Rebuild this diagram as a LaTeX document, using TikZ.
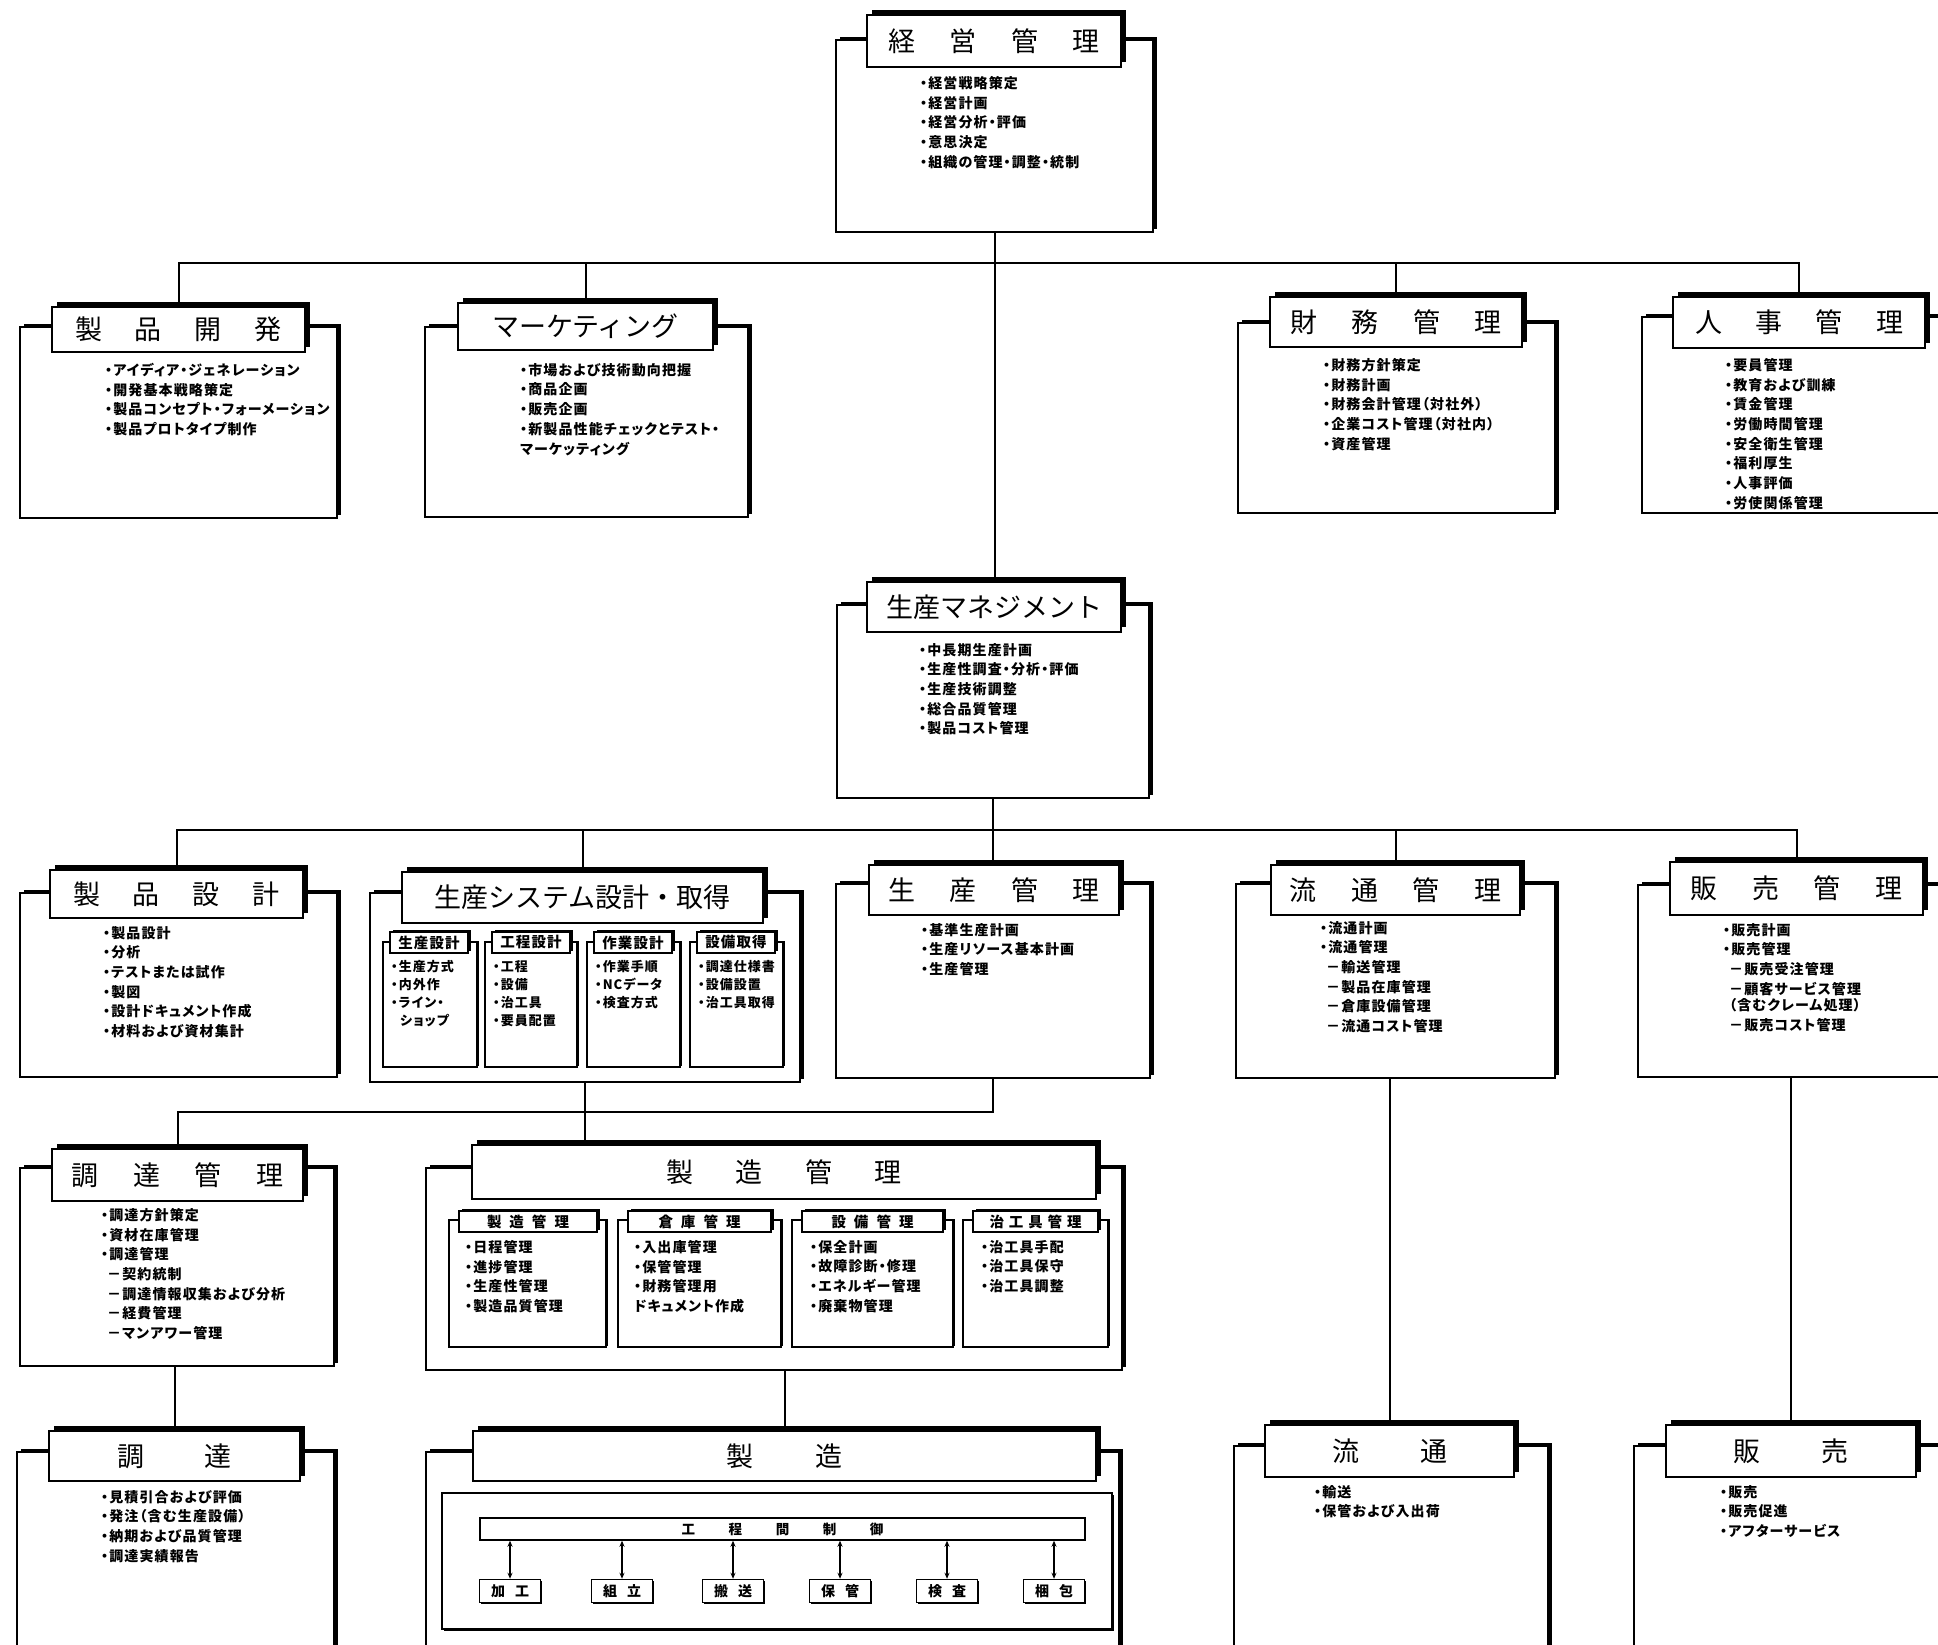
\documentclass[tikz,border=0pt]{standalone}
\usepackage{fontspec}
\newfontfamily\jpt{Noto Sans CJK JP}
\newfontfamily\jpi{Noto Sans CJK JP}[RawFeature=+palt, LetterSpace=8]
\usetikzlibrary{shadows,arrows.meta}
\pgfdeclarelayer{bg}
\pgfsetlayers{bg,main}
\tikzset{
  bodybox/.style={draw, line width=1.5pt, fill=white, inner sep=0pt,
    drop shadow={opacity=1, fill=black, shadow xshift=3.5pt, shadow yshift=3pt}},
  tabbox/.style={draw, line width=1.5pt, fill=white, inner sep=0pt,
    drop shadow={opacity=1, fill=black, shadow xshift=5pt, shadow yshift=5pt},
    font=\jpt\fontsize{27}{30}\selectfont},
  subbody/.style={draw, line width=1.2pt, fill=white, inner sep=0pt,
    drop shadow={opacity=1, fill=black, shadow xshift=2pt, shadow yshift=1.5pt}},
  subtab/.style={draw, line width=1.2pt, fill=white, inner sep=0pt,
    drop shadow={opacity=1, fill=black, shadow xshift=2.5pt, shadow yshift=2.5pt},
    font=\jpi\bfseries\fontsize{14.5}{16}\selectfont},
  innerbox/.style={draw, line width=1.6pt, fill=white, inner sep=0pt,
    drop shadow={opacity=1, fill=black, shadow xshift=2pt, shadow yshift=-2pt}},
  barbox/.style={draw, line width=1.4pt, fill=white, inner sep=0pt,
    font=\jpi\bfseries\fontsize{13.5}{15}\selectfont},
  procbox/.style={draw, line width=1.5pt, fill=white, inner sep=0pt,
    minimum width=61pt, minimum height=23pt,
    drop shadow={opacity=1, fill=black, shadow xshift=1.5pt, shadow yshift=-1.5pt},
    font=\jpi\bfseries\fontsize{14}{15}\selectfont},
  items/.style={anchor=north west, inner sep=0pt, align=left,
    font=\jpi\bfseries\fontsize{14}{19.7}\selectfont},
  subitems/.style={anchor=north west, inner sep=0pt, align=left,
    font=\jpi\bfseries\fontsize{13}{18}\selectfont},
  link/.style={line width=2pt},
  ctl/.style={line width=1.2pt, {Stealth[length=6pt,width=5pt]}-{Stealth[length=6pt,width=5pt]}}
}
\newcommand\bx[7]{\node[#1, minimum width={#5pt-#3pt}, minimum height={#6pt-#4pt}] (#2) at ({(#3+#5)/2},{(#4+#6)/2}) {#7};}
\begin{document}
\begin{tikzpicture}[x=1pt,y=-1pt]
\useasboundingbox (0,0) rectangle (1938,1644);
\begin{pgfonlayer}{bg}
\fill[white] (0,0) rectangle (1938,1644);
\end{pgfonlayer}

% ---------- top ----------
\bx{bodybox}{top-body}{836}{40}{1153}{232}{}
\bx{tabbox}{top-tab}{867}{15}{1121}{67}{\makebox[212pt]{経\hfill 営\hfill 管\hfill 理}}
\node[items] (top-items) at (920,76) {・経営戦略策定\\・経営計画\\・経営分析・評価\\・意思決定\\・組織の管理・調整・統制};

% ---------- row 1 ----------
\bx{bodybox}{kd-body}{20}{327}{337}{518}{}
\bx{tabbox}{kd-tab}{52}{307}{305}{352}{\makebox[207pt]{製\hfill 品\hfill 開\hfill 発}}
\node[items] (kd-items) at (105,363) {・アイディア・ジェネレーション\\・開発基本戦略策定\\・製品コンセプト・フォーメーション\\・製品プロトタイプ制作};

\bx{bodybox}{mk-body}{425}{327}{748}{517}{}
\bx{tabbox}{mk-tab}{458}{303}{713}{350}{マーケティング}
\node[items] (mk-items) at (520,363) {・市場および技術動向把握\\・商品企画\\・販売企画\\・新製品性能チェックとテスト・\\マーケッティング};

\bx{bodybox}{zm-body}{1238}{323}{1555}{513}{}
\bx{tabbox}{zm-tab}{1270}{297}{1522}{347}{\makebox[212pt]{財\hfill 務\hfill 管\hfill 理}}
\node[items] (zm-items) at (1323,358) {・財務方針策定\\・財務計画\\・財務会計管理（対社外）\\・企業コスト管理（対社内）\\・資産管理};

\bx{bodybox}{jj-body}{1642}{317}{1965}{513}{}
\bx{tabbox}{jj-tab}{1673}{297}{1925}{348}{\makebox[208pt]{人\hfill 事\hfill 管\hfill 理}}
\node[items] (jj-items) at (1725,358) {・要員管理\\・教育および訓練\\・賃金管理\\・労働時間管理\\・安全衛生管理\\・福利厚生\\・人事評価\\・労使関係管理};

% ---------- production management ----------
\bx{bodybox}{pm-body}{837}{605}{1149}{798}{}
\bx{tabbox}{pm-tab}{867}{582}{1121}{632}{生産マネジメント}
\node[items] (pm-items) at (919,643) {・中長期生産計画\\・生産性調査・分析・評価\\・生産技術調整\\・総合品質管理\\・製品コスト管理};

% ---------- row 2 ----------
\bx{bodybox}{ps-body}{20}{893}{337}{1077}{}
\bx{tabbox}{ps-tab}{50}{870}{303}{918}{\makebox[207pt]{製\hfill 品\hfill 設\hfill 計}}
\node[items] (ps-items) at (103,926) {・製品設計\\・分析\\・テストまたは試作\\・製図\\・設計ドキュメント作成\\・材料および資材集計};

\bx{bodybox}{ss-body}{370}{893}{800}{1082}{}
\bx{tabbox}{ss-tab}{402}{872}{763}{923}{生産システム設計・取得}
\bx{subbody}{ss1-body}{383}{942}{477}{1067}{}
\bx{subtab}{ss1-tab}{390}{932}{468}{953}{生産設計}
\node[subitems] (ss1-items) at (391,960) {・生産方式\\・内外作\\・ライン・\\\hspace*{9pt}ショップ};
\bx{subbody}{ss2-body}{485}{942}{577}{1067}{}
\bx{subtab}{ss2-tab}{492}{932}{570}{953}{工程設計}
\node[subitems] (ss2-items) at (493,960) {・工程\\・設備\\・治工具\\・要員配置};
\bx{subbody}{ss3-body}{587}{942}{680}{1067}{}
\bx{subtab}{ss3-tab}{594}{932}{672}{953}{作業設計}
\node[subitems] (ss3-items) at (595,960) {・作業手順\\・NCデータ\\・検査方式};
\bx{subbody}{ss4-body}{690}{942}{783}{1067}{}
\bx{subtab}{ss4-tab}{697}{932}{775}{953}{設備取得}
\node[subitems] (ss4-items) at (698,960) {・調達仕様書\\・設備設置\\・治工具取得};

\bx{bodybox}{sm-body}{836}{884}{1150}{1078}{}
\bx{tabbox}{sm-tab}{869}{865}{1119}{915}{\makebox[212pt]{生\hfill 産\hfill 管\hfill 理}}
\node[items] (sm-items) at (921,923) {・基準生産計画\\・生産リソース基本計画\\・生産管理};

\bx{bodybox}{rk-body}{1236}{884}{1555}{1078}{}
\bx{tabbox}{rk-tab}{1271}{865}{1520}{915}{\makebox[212pt]{流\hfill 通\hfill 管\hfill 理}}
\node[items] (rk-items) at (1320,921) {・流通計画\\・流通管理\\\hspace*{6pt}－輸送管理\\\hspace*{6pt}－製品在庫管理\\\hspace*{6pt}－倉庫設備管理\\\hspace*{6pt}－流通コスト管理};

\bx{bodybox}{hk-body}{1638}{885}{1965}{1077}{}
\bx{tabbox}{hk-tab}{1670}{862}{1923}{915}{\makebox[212pt]{販\hfill 売\hfill 管\hfill 理}}
\node[items] (hk-items) at (1723,923) {・販売計画\\・販売管理\\\hspace*{6pt}－販売受注管理\\\hspace*{6pt}－顧客サービス管理\\[-3pt]\hspace*{6pt}（含むクレーム処理）\\\hspace*{6pt}－販売コスト管理};

% ---------- row 3 ----------
\bx{bodybox}{ck-body}{20}{1168}{334}{1366}{}
\bx{tabbox}{ck-tab}{52}{1149}{303}{1201}{\makebox[212pt]{調\hfill 達\hfill 管\hfill 理}}
\node[items] (ck-items) at (101,1208) {・調達方針策定\\・資材在庫管理\\・調達管理\\\hspace*{6pt}－契約統制\\\hspace*{6pt}－調達情報収集および分析\\\hspace*{6pt}－経費管理\\\hspace*{6pt}－マンアワー管理};

\bx{bodybox}{zk-body}{426}{1168}{1122}{1370}{}
\bx{tabbox}{zk-tab}{472}{1145}{1096}{1199}{\makebox[236pt]{製\hfill 造\hfill 管\hfill 理}}
\bx{subbody}{zk1-body}{449}{1220}{606}{1347}{}
\bx{subtab}{zk1-tab}{459}{1211}{597}{1232}{\makebox[82pt]{製\hfill 造\hfill 管\hfill 理}}
\node[items] (zk1-items) at (465,1240) {・日程管理\\・進捗管理\\・生産性管理\\・製造品質管理};
\bx{subbody}{zk2-body}{618}{1220}{781}{1347}{}
\bx{subtab}{zk2-tab}{628}{1211}{771}{1232}{\makebox[82pt]{倉\hfill 庫\hfill 管\hfill 理}}
\node[items] (zk2-items) at (634,1240) {・入出庫管理\\・保管管理\\・財務管理用\\ドキュメント作成};
\bx{subbody}{zk3-body}{792}{1220}{953}{1347}{}
\bx{subtab}{zk3-tab}{802}{1211}{943}{1232}{\makebox[82pt]{設\hfill 備\hfill 管\hfill 理}}
\node[items] (zk3-items) at (810,1240) {・保全計画\\・故障診断・修理\\・エネルギー管理\\・廃棄物管理};
\bx{subbody}{zk4-body}{963}{1220}{1108}{1347}{}
\bx{subtab}{zk4-tab}{973}{1211}{1098}{1232}{\makebox[92pt]{治\hfill 工\hfill 具\hfill 管\hfill 理}}
\node[items] (zk4-items) at (981,1240) {・治工具手配\\・治工具保守\\・治工具調整};

% ---------- bottom row ----------
\bx{bodybox}{ct-body}{17}{1452}{334}{1680}{}
\bx{tabbox}{ct-tab}{49}{1431}{300}{1481}{\makebox[115pt]{調\hfill 達}}
\node[items] (ct-items) at (101,1490) {・見積引合および評価\\・発注（含む生産設備）\\・納期および品質管理\\・調達実績報告};

\bx{bodybox}{zt-body}{426}{1452}{1119}{1680}{}
\bx{tabbox}{zt-tab}{473}{1431}{1096}{1481}{\makebox[116pt]{製\hfill 造}}
\bx{innerbox}{zt-inner}{442}{1493}{1112}{1629}{}
\bx{barbox}{zt-bar}{480}{1518}{1085}{1540}{\makebox[202pt]{工\hfill 程\hfill 間\hfill 制\hfill 御}}
\node[procbox] (p1) at (510,1591) {\makebox[38pt]{加\hfill 工}};
\node[procbox] (p2) at (622,1591) {\makebox[38pt]{組\hfill 立}};
\node[procbox] (p3) at (733,1591) {\makebox[38pt]{搬\hfill 送}};
\node[procbox] (p4) at (840,1591) {\makebox[38pt]{保\hfill 管}};
\node[procbox] (p5) at (947,1591) {\makebox[38pt]{検\hfill 査}};
\node[procbox] (p6) at (1054,1591) {\makebox[38pt]{梱\hfill 包}};
\foreach \p in {p1,p2,p3,p4,p5,p6}{
  \draw[ctl] (zt-bar.south -| \p.north) -- (\p.north);
}

\bx{bodybox}{rt-body}{1234}{1446}{1548}{1680}{}
\bx{tabbox}{rt-tab}{1265}{1425}{1514}{1477}{\makebox[115pt]{流\hfill 通}}
\node[items] (rt-items) at (1314,1485) {・輸送\\・保管および入出荷};

\bx{bodybox}{ht-body}{1634}{1446}{1965}{1680}{}
\bx{tabbox}{ht-tab}{1666}{1425}{1916}{1477}{\makebox[115pt]{販\hfill 売}}
\node[items] (ht-items) at (1720,1485) {・販売\\・販売促進\\・アフターサービス};

% ---------- connectors ----------
\coordinate (bus1) at (0,263);
\coordinate (bus2) at (0,830);
\coordinate (bus3) at (0,1112);
\begin{pgfonlayer}{bg}
\draw[link] (top-body.south) -- (top-body.south |- pm-tab.north);
\draw[link] (kd-tab.north) |- (bus1 -| jj-tab.north) -- (jj-tab.north);
\draw[link] (mk-tab.north) -- (mk-tab.north |- bus1);
\draw[link] (zm-tab.north) -- (zm-tab.north |- bus1);
\draw[link] (pm-body.south) -- (pm-body.south |- sm-tab.north);
\draw[link] (ps-tab.north) |- (bus2 -| hk-tab.north) -- (hk-tab.north);
\draw[link] (ss-tab.north) -- (ss-tab.north |- bus2);
\draw[link] (rk-tab.north) -- (rk-tab.north |- bus2);
\draw[link] (sm-body.south) |- (bus3 -| ck-tab.north) -- (ck-tab.north);
\draw[link] (ss-body.south) -- (ss-body.south |- zk-tab.north);
\draw[link] (ct-tab.north |- ck-body.south) -- (ct-tab.north);
\draw[link] (zt-tab.north |- zk-body.south) -- (zt-tab.north);
\draw[link] (rt-tab.north |- rk-body.south) -- (rt-tab.north);
\draw[link] (ht-tab.north |- hk-body.south) -- (ht-tab.north);
\end{pgfonlayer}
\end{tikzpicture}
\end{document}
